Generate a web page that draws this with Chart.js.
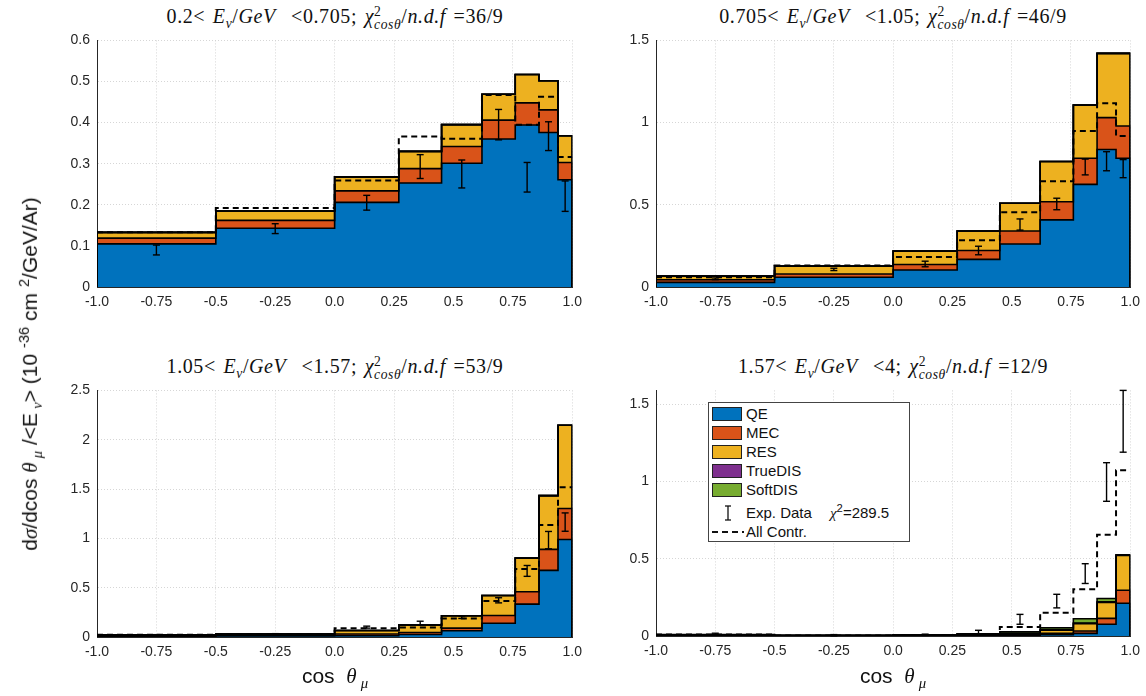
<!DOCTYPE html>
<html><head><meta charset="utf-8">
<script src="https://cdn.jsdelivr.net/npm/chart.js@4.4.1/dist/chart.umd.min.js"></script>
<style>
body{margin:0;background:#fff;width:1146px;height:696px;position:relative;overflow:hidden;font-family:"Liberation Sans",Arial,sans-serif;color:#262626}
.pan{position:absolute}
.ttl{position:absolute;font-family:"Liberation Serif","DejaVu Serif",serif;font-size:20px;letter-spacing:0.6px;word-spacing:2px;white-space:nowrap;transform:translate(-50%,-50%);color:#111}
.ss{display:inline-block;vertical-align:-0.42em;line-height:0.95;font-size:0.68em;text-align:left}
.ylab{position:absolute;left:31px;top:374px;transform:translate(-50%,-50%) rotate(-90deg);font-size:21px;white-space:nowrap;color:#111}
.xlab{position:absolute;font-size:21px;white-space:nowrap;transform:translate(-50%,-50%);color:#111}
.gr{font-family:"Liberation Serif",serif;font-style:italic}
#legend{position:absolute;left:708px;top:402px;width:202px;height:140px;border:1px solid #444;background:#fff;box-sizing:border-box;font-size:15px;color:#111}
.lrow{position:absolute;left:3px;height:14px;line-height:14px}
.patch{position:absolute;left:0;top:0;width:28px;height:12px;border:1.5px solid #222}
.ltxt{position:absolute;left:34px;top:0;white-space:nowrap;line-height:14px}
</style>
</head><body>

<div class="ttl" style="left:335px;top:18px">0.2&lt; <i>E<sub style="font-size:0.68em">ν</sub></i>/<i>GeV</i> &nbsp;&lt;0.705; <i>χ</i><span class="ss">2<br><i>cosθ</i></span>/<i>n.d.f</i> =36/9</div>
<div class="ttl" style="left:893px;top:18px">0.705&lt; <i>E<sub style="font-size:0.68em">ν</sub></i>/<i>GeV</i> &nbsp;&lt;1.05; <i>χ</i><span class="ss">2<br><i>cosθ</i></span>/<i>n.d.f</i> =46/9</div>
<div class="ttl" style="left:335px;top:368px">1.05&lt; <i>E<sub style="font-size:0.68em">ν</sub></i>/<i>GeV</i> &nbsp;&lt;1.57; <i>χ</i><span class="ss">2<br><i>cosθ</i></span>/<i>n.d.f</i> =53/9</div>
<div class="ttl" style="left:893px;top:368px">1.57&lt; <i>E<sub style="font-size:0.68em">ν</sub></i>/<i>GeV</i> &nbsp;&lt;4; <i>χ</i><span class="ss">2<br><i>cosθ</i></span>/<i>n.d.f</i> =12/9</div>

<div class="pan" style="left:37px;top:25px"><canvas id="c1" width="552" height="292"></canvas></div>
<div class="pan" style="left:596px;top:25px"><canvas id="c2" width="551" height="292"></canvas></div>
<div class="pan" style="left:37px;top:375px"><canvas id="c3" width="552" height="292"></canvas></div>
<div class="pan" style="left:596px;top:375px"><canvas id="c4" width="551" height="291"></canvas></div>

<div class="ylab">d<span class="gr">σ</span>/dcos <span class="gr">θ</span><sub style="font-size:0.7em"> <span class="gr">μ</span></sub> /&lt;E<sub style="font-size:0.7em"> <span class="gr">ν</span></sub>&gt; (10 <sup style="font-size:0.7em">-36</sup> cm <sup style="font-size:0.7em">2</sup>/GeV/Ar)</div>
<div class="xlab" style="left:335px;top:678px">cos &nbsp;<span class="gr">θ</span><sub style="font-size:0.7em"> <span class="gr">μ</span></sub></div>
<div class="xlab" style="left:893px;top:678px">cos &nbsp;<span class="gr">θ</span><sub style="font-size:0.7em"> <span class="gr">μ</span></sub></div>

<div id="legend">
  <div class="lrow" style="top:4px"><div class="patch" style="background:#0072BD"></div><div class="ltxt">QE</div></div>
  <div class="lrow" style="top:23px"><div class="patch" style="background:#D95319"></div><div class="ltxt">MEC</div></div>
  <div class="lrow" style="top:42px"><div class="patch" style="background:#EDB120"></div><div class="ltxt">RES</div></div>
  <div class="lrow" style="top:61px"><div class="patch" style="background:#7E2F8E"></div><div class="ltxt">TrueDIS</div></div>
  <div class="lrow" style="top:80px"><div class="patch" style="background:#77AC30"></div><div class="ltxt">SoftDIS</div></div>
  <div class="lrow" style="top:103px"><svg width="30" height="16" style="position:absolute;left:0;top:-1px"><line x1="16" y1="1" x2="16" y2="15" stroke="#111" stroke-width="1.3"/><line x1="13" y1="1" x2="19" y2="1" stroke="#111" stroke-width="1.3"/><line x1="13" y1="15" x2="19" y2="15" stroke="#111" stroke-width="1.3"/></svg><div class="ltxt">Exp. Data</div><div class="ltxt" style="left:118px"><span class="gr">χ</span><span style="font-size:0.75em;position:relative;top:-6px">2</span>=289.5</div></div>
  <div class="lrow" style="top:122px"><svg width="32" height="14" style="position:absolute;left:0;top:0"><line x1="0" y1="7" x2="32" y2="7" stroke="#111" stroke-width="2" stroke-dasharray="6,4"/></svg><div class="ltxt">All Contr.</div></div>
</div>

<script>
// ---------- shared binning ----------
const binEdges   = [-1, -0.5, 0, 0.27, 0.45, 0.62, 0.76, 0.86, 0.94, 1.0];
const binCenters = [-0.75, -0.25, 0.135, 0.36, 0.535, 0.69, 0.81, 0.90, 0.97];
const xTickValues = [-1, -0.75, -0.5, -0.25, 0, 0.25, 0.5, 0.75, 1];
const xTickLabels = ["-1.0", "-0.75", "-0.5", "-0.25", "0.0", "0.25", "0.5", "0.75", "1.0"];
const componentNames = ["QE", "MEC", "RES", "TrueDIS", "SoftDIS"];

// ---------- panel 1: 0.2 < Ev < 0.705 ----------
const p1_QE      = [0.105, 0.143, 0.206, 0.253, 0.301, 0.360, 0.394, 0.376, 0.261];
const p1_MEC     = [0.014, 0.019, 0.028, 0.035, 0.041, 0.046, 0.054, 0.055, 0.042];
const p1_RES     = [0.014, 0.023, 0.034, 0.042, 0.053, 0.063, 0.069, 0.071, 0.065];
const p1_TrueDIS = [0, 0, 0, 0, 0, 0, 0, 0, 0];
const p1_SoftDIS = [0, 0, 0, 0, 0, 0, 0, 0, 0];
const p1_AllContr = [0.133, 0.192, 0.259, 0.366, 0.361, 0.467, 0.395, 0.463, 0.316];
const p1_Data    = [0.090, 0.142, 0.205, 0.293, 0.275, 0.395, 0.267, 0.367, 0.221];
const p1_DataErr = [0.012, 0.012, 0.018, 0.029, 0.034, 0.037, 0.036, 0.035, 0.037];
const p1_yTicks  = [0, 0.1, 0.2, 0.3, 0.4, 0.5, 0.6];
const p1_yLabels = ["0", "0.1", "0.2", "0.3", "0.4", "0.5", "0.6"];
const p1_yMax = 0.6;

// ---------- panel 2: 0.705 < Ev < 1.05 ----------
const p2_QE      = [0.028, 0.059, 0.103, 0.168, 0.262, 0.408, 0.624, 0.836, 0.783];
const p2_MEC     = [0.016, 0.020, 0.034, 0.054, 0.079, 0.111, 0.159, 0.194, 0.196];
const p2_RES     = [0.023, 0.048, 0.081, 0.119, 0.168, 0.244, 0.323, 0.391, 0.442];
const p2_TrueDIS = [0, 0, 0, 0, 0, 0, 0, 0, 0];
const p2_SoftDIS = [0, 0, 0, 0, 0, 0, 0, 0, 0];
const p2_AllContr = [0.060, 0.131, 0.182, 0.285, 0.454, 0.644, 0.949, 1.117, 0.919];
const p2_Data    = [0.050, 0.107, 0.140, 0.222, 0.380, 0.505, 0.730, 0.765, 0.720];
const p2_DataErr = [0.005, 0.007, 0.017, 0.026, 0.034, 0.035, 0.048, 0.058, 0.055];
const p2_yTicks  = [0, 0.5, 1, 1.5];
const p2_yLabels = ["0", "0.5", "1", "1.5"];
const p2_yMax = 1.5;

// ---------- panel 3: 1.05 < Ev < 1.57 ----------
const p3_QE      = [0.007, 0.010, 0.012, 0.025, 0.063, 0.140, 0.333, 0.675, 0.988];
const p3_MEC     = [0.007, 0.008, 0.018, 0.020, 0.027, 0.078, 0.125, 0.213, 0.315];
const p3_RES     = [0.008, 0.012, 0.036, 0.077, 0.125, 0.202, 0.342, 0.545, 0.843];
const p3_TrueDIS = [0, 0, 0, 0, 0, 0, 0, 0, 0];
const p3_SoftDIS = [0, 0, 0, 0, 0, 0, 0, 0, 0];
const p3_AllContr = [0.024, 0.028, 0.089, 0.096, 0.188, 0.365, 0.690, 1.136, 1.518];
const p3_Data    = [0.020, 0.030, 0.100, 0.140, 0.200, 0.372, 0.670, 0.982, 1.165];
const p3_DataErr = [0.004, 0.004, 0.010, 0.020, 0.012, 0.026, 0.055, 0.088, 0.093];
const p3_yTicks  = [0, 0.5, 1, 1.5, 2, 2.5];
const p3_yLabels = ["0", "0.5", "1", "1.5", "2", "2.5"];
const p3_yMax = 2.5;

// ---------- panel 4: 1.57 < Ev < 4 ----------
const p4_QE      = [0.002, 0.001, 0.002, 0.002, 0.004, 0.008, 0.017, 0.076, 0.212];
const p4_MEC     = [0.001, 0.001, 0.001, 0.001, 0.003, 0.009, 0.015, 0.038, 0.084];
const p4_RES     = [0.003, 0.001, 0.002, 0.005, 0.008, 0.021, 0.048, 0.103, 0.226];
const p4_TrueDIS = [0.001, 0.001, 0.001, 0.002, 0.003, 0.003, 0.004, 0.004, 0.001];
const p4_SoftDIS = [0.002, 0.001, 0.002, 0.005, 0.009, 0.012, 0.028, 0.022, 0.002];
const p4_AllContr = [0.009, 0.004, 0.006, 0.012, 0.059, 0.150, 0.302, 0.655, 1.073];
const p4_Data    = [0.012, 0.005, 0.008, 0.025, 0.108, 0.226, 0.404, 0.997, 1.390];
const p4_DataErr = [0.006, 0.004, 0.004, 0.012, 0.032, 0.044, 0.064, 0.125, 0.200];
const p4_yTicks  = [0, 0.5, 1, 1.5];
const p4_yLabels = ["0", "0.5", "1", "1.5"];
const p4_yMax = 1.59;

const layerColors = ["#0072BD", "#D95319", "#EDB120", "#7E2F8E", "#77AC30"];

function cumulative(layers) {
  const out = []; let run = binCenters.map(() => 0);
  layers.forEach(l => { run = run.map((v, i) => v + l[i]); out.push(run.slice()); });
  return out;
}
// histogram outline: horizontal at each bin value from its left edge to the next edge ("before" stepping)
function stepPoints(vals, closed) {
  const pts = [];
  if (closed) pts.push({x: binEdges[0], y: 0});
  vals.forEach((v, i) => pts.push({x: binEdges[i], y: v}));
  pts.push({x: binEdges[binEdges.length - 1], y: vals[vals.length - 1]});
  if (closed) pts.push({x: binEdges[binEdges.length - 1], y: 0});
  return pts;
}
function errPoints(vals, errs) {
  const pts = [];
  vals.forEach((v, i) => {
    pts.push({x: binCenters[i], y: v - errs[i]});
    pts.push({x: binCenters[i], y: v + errs[i]});
    pts.push({x: binCenters[i], y: null});
  });
  return pts;
}

Chart.defaults.font.family = '"Liberation Sans", Arial, sans-serif';
Chart.defaults.color = '#262626';

function makePanel(id, layers, allContr, data, err, yMax, yTicks, yLabels) {
  const tops = cumulative(layers);
  const datasets = tops.map((t, i) => ({
    label: componentNames[i], data: stepPoints(t, true), stepped: 'before',
    borderColor: '#000', borderWidth: 1.6, backgroundColor: layerColors[i],
    fill: i === 0 ? 'origin' : '-1', pointRadius: 0, order: 10 - i
  }));
  datasets.push({label: 'All Contr.', data: stepPoints(allContr, false), stepped: 'before',
    borderColor: '#000', borderWidth: 2, borderDash: [6, 4], fill: false, pointRadius: 0, order: 1});
  datasets.push({label: 'Exp. Data', data: errPoints(data, err), spanGaps: false,
    borderColor: '#000', borderWidth: 1.4, fill: false, pointStyle: 'line', pointRadius: 3.5,
    pointBorderColor: '#000', pointBorderWidth: 1.4, order: 0, clip: false});
  new Chart(document.getElementById(id), {
    type: 'line',
    data: {datasets},
    options: {
      responsive: false, animation: false, devicePixelRatio: 1,
      layout: {padding: {top: 10, right: 16, left: 0, bottom: 0}},
      plugins: {legend: {display: false}, tooltip: {enabled: false}, filler: {drawTime: 'beforeDatasetsDraw'}},
      scales: {
        x: {type: 'linear', min: -1, max: 1, z: 1,
          afterBuildTicks: s => { s.ticks = xTickValues.map(v => ({value: v})); },
          afterFit: s => { s.height = 30; },
          ticks: {autoSkip: false, maxRotation: 0, padding: 7, font: {size: 14},
            callback: v => xTickLabels[xTickValues.indexOf(v)]},
          grid: {color: 'rgba(210,210,210,0.9)', lineWidth: 1, drawTicks: false},
          border: {display: true, color: '#262626', width: 1, dash: [1, 2]}},
        y: {type: 'linear', min: 0, max: yMax, z: 1,
          afterBuildTicks: s => { s.ticks = yTicks.map(v => ({value: v})); },
          afterFit: s => { s.width = 60; },
          ticks: {padding: 7, font: {size: 14},
            callback: v => yLabels[yTicks.indexOf(v)]},
          grid: {color: 'rgba(210,210,210,0.9)', lineWidth: 1, drawTicks: false},
          border: {display: true, color: '#262626', width: 1, dash: [1, 2]}}
      }
    }
  });
}

makePanel('c1', [p1_QE, p1_MEC, p1_RES, p1_TrueDIS, p1_SoftDIS], p1_AllContr, p1_Data, p1_DataErr, p1_yMax, p1_yTicks, p1_yLabels);
makePanel('c2', [p2_QE, p2_MEC, p2_RES, p2_TrueDIS, p2_SoftDIS], p2_AllContr, p2_Data, p2_DataErr, p2_yMax, p2_yTicks, p2_yLabels);
makePanel('c3', [p3_QE, p3_MEC, p3_RES, p3_TrueDIS, p3_SoftDIS], p3_AllContr, p3_Data, p3_DataErr, p3_yMax, p3_yTicks, p3_yLabels);
makePanel('c4', [p4_QE, p4_MEC, p4_RES, p4_TrueDIS, p4_SoftDIS], p4_AllContr, p4_Data, p4_DataErr, p4_yMax, p4_yTicks, p4_yLabels);
</script>
</body></html>
